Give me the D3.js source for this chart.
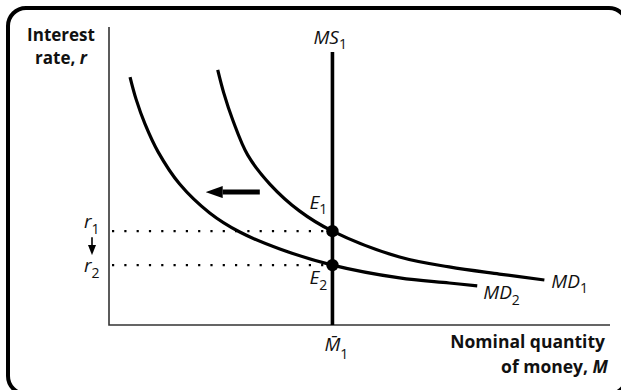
<!DOCTYPE html>
<html>
<head>
<meta charset="utf-8">
<script src="https://cdn.jsdelivr.net/npm/d3@7"></script>
<style>
  body { margin: 0; background: #fff; }
  text { font-family: "Open Sans", "DejaVu Sans", sans-serif; fill: #111; }
</style>
</head>
<body>
<script>
// ---- data (money M on x, interest rate r on y, both 0..100) ----
var md1Money = [21.7, 22.9, 24.7, 27.7, 32.1, 38.0, 44.6, 58.0, 67.9, 77.9, 86.9];
var md1Rate  = [85.6, 77.9, 68.8, 57.0, 47.3, 38.3, 31.5, 22.8, 19.5, 17.1, 15.1];

var md2Money = [4.2, 5.4, 7.2, 9.8, 14.1, 20.1, 26.1, 34.1, 44.6, 58.0, 67.9, 73.5];
var md2Rate  = [83.2, 75.8, 67.4, 58.1, 47.3, 37.6, 31.2, 25.5, 20.1, 15.8, 14.1, 13.1];

var ms1Money = [44.6, 44.6];
var ms1Rate  = [0, 91.6];

var eqNames = ["1", "2"];
var eqMoney = [44.6, 44.6];
var eqRate  = [31.5, 20.1];

var shiftFrom = 30.1, shiftTo = 19.3, shiftRate = 44.6;

var width = 621, height = 390;

var svg = d3.select("body").append("svg")
  .attr("width", width)
  .attr("height", height);

var xScale = d3.scaleLinear().domain([0, 100]).range([109, 610]);
var yScale = d3.scaleLinear().domain([0, 100]).range([325, 27]);

var toPts = function(ms, rs){
  return ms.map(function(m, i){ return [m, rs[i]]; });
};

// arrow heads
var defs = svg.append("defs");
defs.append("marker")
  .attr("id", "headBig")
  .attr("markerUnits", "userSpaceOnUse")
  .attr("viewBox", "0 0 17 12")
  .attr("refX", 0).attr("refY", 6)
  .attr("markerWidth", 17).attr("markerHeight", 12)
  .attr("orient", "auto")
  .append("path").attr("d", "M0,0 L17,6 L0,12 Z").attr("fill", "#000");
defs.append("marker")
  .attr("id", "headSmall")
  .attr("markerUnits", "userSpaceOnUse")
  .attr("viewBox", "0 0 10 8")
  .attr("refX", 0).attr("refY", 4)
  .attr("markerWidth", 10).attr("markerHeight", 8)
  .attr("orient", "auto")
  .append("path").attr("d", "M0,0 L10,4 L0,8 Z").attr("fill", "#000");

// frame
svg.append("rect")
  .attr("x", 8).attr("y", 8)
  .attr("width", 619).attr("height", 386)
  .attr("rx", 18)
  .attr("fill", "none")
  .attr("stroke", "#000")
  .attr("stroke-width", 4);

// axes
svg.append("path")
  .attr("d", "M" + xScale(0) + "," + yScale(100) + "V" + yScale(0) + "H" + xScale(100))
  .attr("fill", "none")
  .attr("stroke", "#333")
  .attr("stroke-width", 1.6);

// dotted guides
svg.selectAll(".guide")
  .data(eqRate)
  .enter().append("line")
  .attr("class", "guide")
  .attr("x1", xScale(0) + 3)
  .attr("x2", function(d, i){ return xScale(eqMoney[i]); })
  .attr("y1", function(d){ return yScale(d); })
  .attr("y2", function(d){ return yScale(d); })
  .attr("stroke", "#000")
  .attr("stroke-width", 2.2)
  .attr("stroke-dasharray", "2.2 10.1");

// demand curves
var line = d3.line()
  .x(function(d){ return xScale(d[0]); })
  .y(function(d){ return yScale(d[1]); })
  .curve(d3.curveCatmullRom.alpha(0.5));

[toPts(md1Money, md1Rate), toPts(md2Money, md2Rate)].forEach(function(pts){
  svg.append("path")
    .datum(pts)
    .attr("d", line)
    .attr("fill", "none")
    .attr("stroke", "#000")
    .attr("stroke-width", 3.2);
});

// money supply
svg.append("path")
  .datum(toPts(ms1Money, ms1Rate))
  .attr("d", d3.line().x(function(d){ return xScale(d[0]); }).y(function(d){ return yScale(d[1]); }))
  .attr("stroke", "#000")
  .attr("stroke-width", 3.6);

// equilibrium points
svg.selectAll(".eq")
  .data(eqRate)
  .enter().append("circle")
  .attr("class", "eq")
  .attr("cx", function(d, i){ return xScale(eqMoney[i]); })
  .attr("cy", function(d){ return yScale(d); })
  .attr("r", 6.2)
  .attr("fill", "#000");

// shift arrow
svg.append("line")
  .attr("x1", xScale(shiftFrom)).attr("x2", xScale(shiftTo) + 17)
  .attr("y1", yScale(shiftRate)).attr("y2", yScale(shiftRate))
  .attr("stroke", "#000")
  .attr("stroke-width", 5)
  .attr("marker-end", "url(#headBig)");

// r1 -> r2 arrow
svg.append("line")
  .attr("x1", xScale(0) - 17).attr("x2", xScale(0) - 17)
  .attr("y1", yScale(eqRate[0]) + 6).attr("y2", yScale(eqRate[1]) - 20)
  .attr("stroke", "#000")
  .attr("stroke-width", 1.6)
  .attr("marker-end", "url(#headSmall)");

// ---- labels ----
var subLabel = function(px, py, main, sub, opts){
  opts = opts || {};
  var t = svg.append("text")
    .attr("x", px).attr("y", py)
    .style("font-size", (opts.size || 19) + "px")
    .style("font-style", "italic");
  t.append("tspan").text(main);
  t.append("tspan")
    .attr("dy", opts.dy || 5)
    .style("font-style", "normal")
    .style("font-size", (opts.subSize || 14) + "px")
    .text(sub);
  return t;
};

subLabel(xScale(ms1Money[1]) - 19, 44, "MS", "1");
subLabel(xScale(eqMoney[0]) - 23, yScale(eqRate[0]) - 22, "E", eqNames[0]);
subLabel(xScale(eqMoney[1]) - 23, yScale(eqRate[1]) + 19, "E", eqNames[1], {dy: 6});
subLabel(xScale(0) - 25, yScale(eqRate[0]) - 3, "r", "1", {dy: 6});
subLabel(xScale(0) - 25, yScale(eqRate[1]) + 7, "r", "2", {dy: 6});
subLabel(xScale(md1Money[md1Money.length - 1]) + 7, yScale(md1Rate[md1Rate.length - 1]) + 8, "MD", "1");
subLabel(xScale(md2Money[md2Money.length - 1]) + 6, yScale(md2Rate[md2Rate.length - 1]) + 13, "MD", "2", {dy: 6});
subLabel(xScale(eqMoney[0]) - 8, yScale(0) + 26, "M\u0304", "1", {dy: 8});

// axis titles
var yTitle = svg.append("text")
  .attr("text-anchor", "middle")
  .style("font-size", "17px")
  .style("font-weight", "bold");
yTitle.append("tspan").attr("x", 61).attr("y", 41).text("Interest");
var yl2 = yTitle.append("tspan").attr("x", 61).attr("y", 64);
yl2.append("tspan").text("rate, ");
yl2.append("tspan").style("font-style", "italic").text("r");

var xTitle = svg.append("text")
  .attr("text-anchor", "end")
  .style("font-size", "17.5px")
  .style("font-weight", "bold");
xTitle.append("tspan").attr("x", 605).attr("y", 348).text("Nominal quantity");
var xl2 = xTitle.append("tspan").attr("x", 608).attr("y", 373);
xl2.append("tspan").text("of money, ");
xl2.append("tspan").style("font-style", "italic").text("M");
</script>
</body>
</html>
